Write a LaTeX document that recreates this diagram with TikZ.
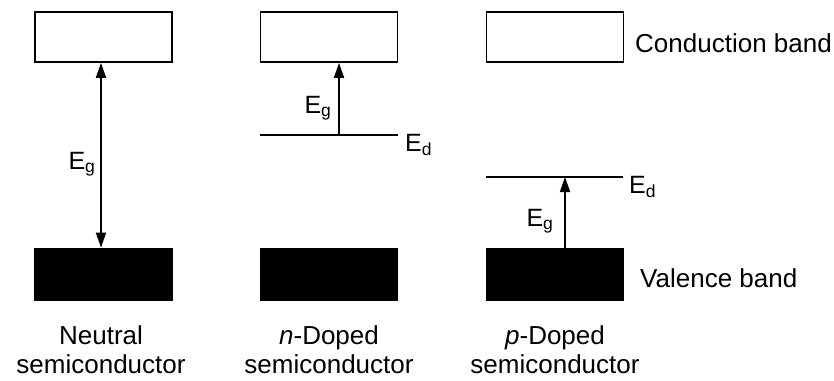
\documentclass[tikz,border=0pt]{standalone}
\usepackage{fontspec}
\setmainfont{Liberation Sans}
\usetikzlibrary{arrows.meta}
\tikzset{
  band/.style={draw=black, line width=1.8pt, minimum width=137pt, minimum height=50pt, inner sep=0pt},
  cband/.style={band, fill=white},
  vband/.style={band, fill=black, minimum height=52pt},
  level/.style={line width=1.8pt},
  gap/.style={line width=1.8pt, -{Triangle[length=15pt,width=10pt]}},
  gapboth/.style={line width=1.8pt, {Triangle[length=15pt,width=10pt]}-{Triangle[length=15pt,width=10pt]}},
  lbl/.style={font=\fontsize{25}{30}\selectfont, inner sep=0pt},
  side/.style={font=\fontsize{26}{30}\selectfont, inner sep=0pt, anchor=base west},
  caption/.style={font=\fontsize{26}{29}\selectfont, inner sep=0pt, align=center, anchor=base}
}
\begin{document}
\begin{tikzpicture}[x=1pt,y=-1pt]
\useasboundingbox (0,0) rectangle (834,380);
% neutral
\node[cband] (c1) at (103.5,37) {};
\node[vband] (v1) at (103.5,274.5) {};
\draw[gapboth] ([xshift=-2.5pt]c1.south) -- ([xshift=-2.5pt]v1.north);
\node[lbl, anchor=base] (g1) at (82,169) {E\textsubscript{g}};
% n-doped
\node[cband] (c2) at (329,37) {};
\node[vband] (v2) at (329,274.5) {};
\coordinate (d2l) at (260,135);
\coordinate (d2r) at (398,135);
\coordinate (d2a) at (339,135);
\draw[level] (d2l) -- (d2r);
\draw[gap] (d2a) -- (d2a |- c2.south);
\node[lbl, anchor=base] (g2) at (318,113) {E\textsubscript{g}};
\node[lbl, anchor=base west] (e2) at (405,151) {E\textsubscript{d}};
% p-doped
\node[cband] (c3) at (555,37) {};
\node[vband] (v3) at (555,274.5) {};
\coordinate (d3l) at (486,177);
\coordinate (d3r) at (623,177);
\coordinate (d3a) at (565,177);
\draw[level] (d3l) -- (d3r);
\draw[gap] (d3a |- v3.north) -- (d3a);
\node[lbl, anchor=base] (g3) at (540,226) {E\textsubscript{g}};
\node[lbl, anchor=base west] (e3) at (629,193) {E\textsubscript{d}};
% side labels
\node[side] (cb) at (635,52) {Conduction band};
\node[side] (vb) at (640,287) {Valence band};
% captions
\node[caption] (n1) at (101,373) {Neutral\\semiconductor};
\node[caption] (n2) at (329,373) {\textit{n}-Doped\\semiconductor};
\node[caption] (n3) at (555,373) {\textit{p}-Doped\\semiconductor};
\end{tikzpicture}
\end{document}
